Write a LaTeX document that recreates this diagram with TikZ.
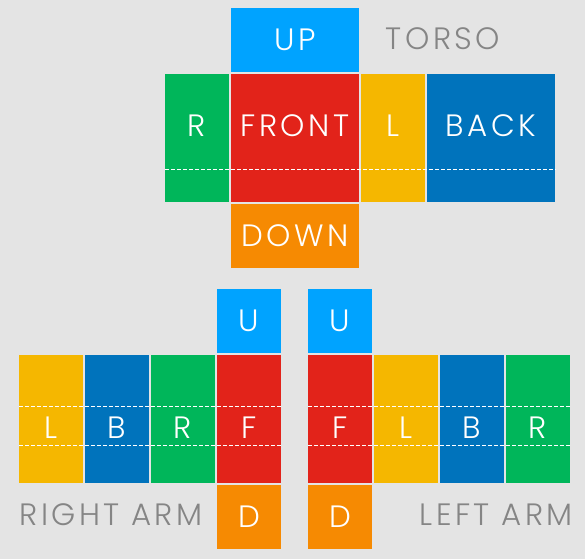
\documentclass[tikz,border=0pt]{standalone}
\usepackage{fontspec}
\setmainfont{Poppins}[UprightFont=* Light, LetterSpace=11]
\usetikzlibrary{calc}
\definecolor{skyblue}{HTML}{00A3FF}
\definecolor{frontred}{HTML}{E2231A}
\definecolor{sunyellow}{HTML}{F5B700}
\definecolor{deepblue}{HTML}{0073BC}
\definecolor{leafgreen}{HTML}{00B65A}
\definecolor{dkorange}{HTML}{F68A02}
\definecolor{bggray}{HTML}{E4E4E4}
\definecolor{txtgray}{HTML}{858585}

\begin{document}
\begin{tikzpicture}[x=1bp, y=-1bp,
  face/.style={inner sep=0pt, text=white, font=\fontsize{31}{31}\selectfont},
  lid/.style={face, minimum width=128bp, minimum height=64bp},
  tall/.style={face, minimum width=64bp, minimum height=128bp},
  wide/.style={face, minimum width=128bp, minimum height=128bp},
  tile/.style={face, minimum width=64bp, minimum height=64bp},
  hi/.style={text height=22bp, text depth=24bp},
  lo/.style={text height=38bp, text depth=0bp},
  fold/.style={white, line width=0.8pt, dash pattern=on 4bp off 2bp},
  partname/.style={text=txtgray, inner sep=0pt, font=\fontsize{31}{31}\selectfont}]

% background
\fill[bggray] (0,0) rectangle (585,559);
\useasboundingbox (0,0) rectangle (585,559);

% =====================================================
% Torso
% =====================================================
\node[lid, fill=skyblue] (up) at (295,40) {UP};
\node[tall, hi, fill=leafgreen] (tr) at (197,138) {R};
\node[wide, hi, fill=frontred] (front) at (295,138) {FRONT};
\node[tall, hi, fill=sunyellow] (tl) at (393,138) {L};
\node[wide, hi, fill=deepblue] (back) at (491,138) {BACK};
\node[lid, fill=dkorange] (down) at (295,236) {DOWN};
\node[partname] (torso) at (443,39) {TORSO};

\draw[fold] ($(tr.north west)+(0,96)$) -- ($(back.north east)+(0,96)$);

% =====================================================
% Right arm
% =====================================================
\node[tile, fill=skyblue] (ru) at (249,321) {U};
\node[tall, lo, fill=sunyellow] (rl) at (51,419) {L};
\node[tall, lo, fill=deepblue] (rb) at (117,419) {B};
\node[tall, lo, fill=leafgreen] (rr) at (183,419) {R};
\node[tall, lo, fill=frontred] (rf) at (249,419) {F};
\node[tile, fill=dkorange] (rd) at (249,517) {D};
\node[partname] (rarm) at (111,515) {RIGHT ARM};

\draw[fold] ($(rl.north west)+(0,52)$) -- ($(rf.north east)+(0,52)$);
\draw[fold] ($(rl.north west)+(0,91)$) -- ($(rf.north east)+(0,91)$);

% =====================================================
% Left arm
% =====================================================
\node[tile, fill=skyblue] (lu) at (340,321) {U};
\node[tall, lo, fill=frontred] (lf) at (340,419) {F};
\node[tall, lo, fill=sunyellow] (ll) at (406,419) {L};
\node[tall, lo, fill=deepblue] (lb) at (472,419) {B};
\node[tall, lo, fill=leafgreen] (lr) at (538,419) {R};
\node[tile, fill=dkorange] (ld) at (340,517) {D};
\node[partname, anchor=east] (larm) at (573,515) {LEFT ARM};

\draw[fold] ($(lf.north west)+(0,52)$) -- ($(lr.north east)+(0,52)$);
\draw[fold] ($(lf.north west)+(0,91)$) -- ($(lr.north east)+(0,91)$);

\end{tikzpicture}
\end{document}
